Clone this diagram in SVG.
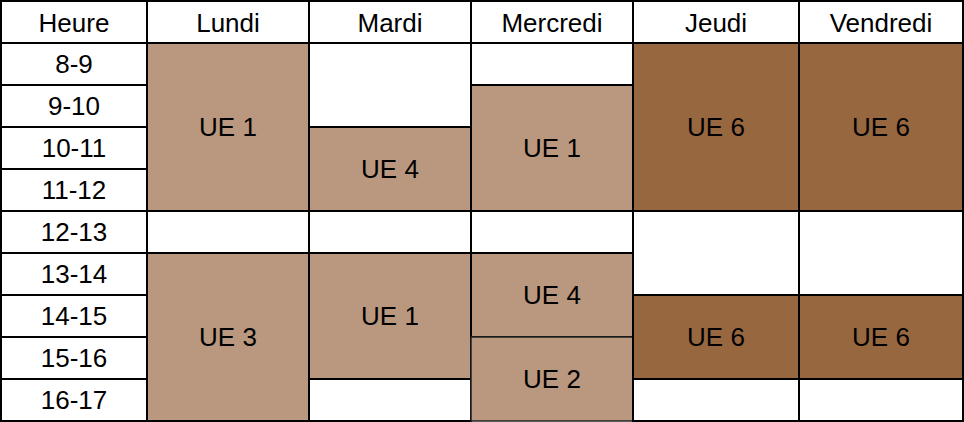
<svg xmlns="http://www.w3.org/2000/svg" width="964" height="422" viewBox="0 0 964 422">
<style>
.c{stroke:#000;stroke-width:2}
.w{fill:#fff}
.l{fill:#b9987f}
.d{fill:#976740}
text{font-family:"Liberation Sans",Arial,sans-serif;text-anchor:middle;fill:#000}
.h{font-size:26px}
.u{font-size:26px}
</style>
<rect x="0" y="0" width="964" height="422" fill="#fff"/>
<g id="header">
<rect class="c w" x="1" y="1" width="146" height="42"/><text class="h" x="74" y="31.5">Heure</text>
<rect class="c w" x="147" y="1" width="162" height="42"/><text class="h" x="228" y="31.5">Lundi</text>
<rect class="c w" x="309" y="1" width="162" height="42"/><text class="h" x="390" y="31.5">Mardi</text>
<rect class="c w" x="471" y="1" width="162" height="42"/><text class="h" x="552" y="31.5">Mercredi</text>
<rect class="c w" x="633" y="1" width="166" height="42"/><text class="h" x="716" y="31.5">Jeudi</text>
<rect class="c w" x="799" y="1" width="164" height="42"/><text class="h" x="881" y="31.5">Vendredi</text>
</g>
<g id="hours">
<rect class="c w" x="1" y="43" width="146" height="42"/><text class="h" x="74" y="72.5">8-9</text>
<rect class="c w" x="1" y="85" width="146" height="42"/><text class="h" x="74" y="114.5">9-10</text>
<rect class="c w" x="1" y="127" width="146" height="42"/><text class="h" x="74" y="156.5">10-11</text>
<rect class="c w" x="1" y="169" width="146" height="42"/><text class="h" x="74" y="198.5">11-12</text>
<rect class="c w" x="1" y="211" width="146" height="42"/><text class="h" x="74" y="240.5">12-13</text>
<rect class="c w" x="1" y="253" width="146" height="42"/><text class="h" x="74" y="282.5">13-14</text>
<rect class="c w" x="1" y="295" width="146" height="42"/><text class="h" x="74" y="324.5">14-15</text>
<rect class="c w" x="1" y="337" width="146" height="42"/><text class="h" x="74" y="366.5">15-16</text>
<rect class="c w" x="1" y="379" width="146" height="42"/><text class="h" x="74" y="408.5">16-17</text>
</g>
<g id="lundi">
<rect class="c l" x="147" y="43" width="162" height="168"/><text class="u" x="228" y="135.5">UE 1</text>
<rect class="c w" x="147" y="211" width="162" height="42"/>
<rect class="c l" x="147" y="253" width="162" height="168"/><text class="u" x="228" y="345.5">UE 3</text>
</g>
<g id="mardi">
<rect class="c w" x="309" y="43" width="162" height="84"/>
<rect class="c l" x="309" y="127" width="162" height="84"/><text class="u" x="390" y="177.5">UE 4</text>
<rect class="c w" x="309" y="211" width="162" height="42"/>
<rect class="c l" x="309" y="253" width="162" height="126"/><text class="u" x="390" y="324.5">UE 1</text>
<rect class="c w" x="309" y="379" width="162" height="42"/>
</g>
<g id="mercredi">
<rect class="c w" x="471" y="43" width="162" height="42"/>
<rect class="c l" x="471" y="85" width="162" height="126"/><text class="u" x="552" y="156.5">UE 1</text>
<rect class="c w" x="471" y="211" width="162" height="42"/>
<rect class="c l" x="471" y="253" width="162" height="84"/><text class="u" x="552" y="303.5">UE 4</text>
<rect class="l" x="471" y="337" width="162" height="84" stroke="#222" stroke-width="1.5"/><text class="u" x="552" y="387.5" fill="#222">UE 2</text>
</g>
<g id="jeudi">
<rect class="c d" x="633" y="43" width="166" height="168"/><text class="u" x="716" y="135.5">UE 6</text>
<rect class="c w" x="633" y="211" width="166" height="84"/>
<rect class="c d" x="633" y="295" width="166" height="84"/><text class="u" x="716" y="345.5">UE 6</text>
<rect class="c w" x="633" y="379" width="166" height="42"/>
</g>
<g id="vendredi">
<rect class="c d" x="799" y="43" width="164" height="168"/><text class="u" x="881" y="135.5">UE 6</text>
<rect class="c w" x="799" y="211" width="164" height="84"/>
<rect class="c d" x="799" y="295" width="164" height="84"/><text class="u" x="881" y="345.5">UE 6</text>
<rect class="c w" x="799" y="379" width="164" height="42"/>
</g>
</svg>
